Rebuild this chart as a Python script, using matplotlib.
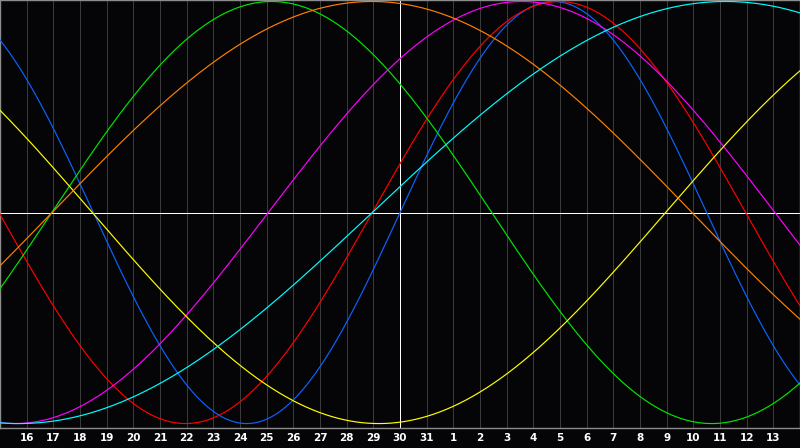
import numpy as np
import matplotlib
matplotlib.use("Agg")
import matplotlib.pyplot as plt

# Day labels along the bottom (gridline k = 1..29)
day_labels = [16, 17, 18, 19, 20, 21, 22, 23, 24, 25, 26, 27, 28, 29, 30, 31,
              1, 2, 3, 4, 5, 6, 7, 8, 9, 10, 11, 12, 13]
n_days = 30          # chart spans 30 days (15th .. 14th)
today_index = 15     # day "30" highlighted

# Biorhythm cycles: period (days) and day index of ascending zero crossing
names = ["physical", "emotional", "intellectual", "intuitive", "aesthetic", "awareness", "spiritual"]
periods = [23, 28, 33, 38, 43, 48, 53]
zero_up = [15.0, 13.96, 1.94, 10.06, 24.96, 1.95, 13.96]
colors = ["#0a64ff", "#ff0000", "#00e600", "#ff00ff", "#ffff00", "#ff8000", "#00ffff"]

fig = plt.figure(figsize=(8, 4.48), dpi=100, facecolor="#050508")
ax = fig.add_axes([0, 20 / 448, 1, 428 / 448])
ax.set_facecolor("#050508")
ax.set_xlim(0, n_days)
ax.set_ylim(-1.021, 1.007)

for k in range(1, n_days):
    ax.axvline(k, color="#3a3a3a", lw=0.72, antialiased=False, zorder=1)

t = np.linspace(0, n_days, 1601)
for p, z, c in zip(periods, zero_up, colors):
    ax.plot(t, np.sin(2 * np.pi * (t - z) / p), color=c, lw=0.85, zorder=3)

ax.axhline(0, color="white", lw=0.72, antialiased=False, zorder=2)
ax.axvline(today_index, color="white", lw=0.72, antialiased=False, zorder=2)

ax.set_xticks([])
ax.set_yticks([])
for s in ax.spines.values():
    s.set_color("#8c8c8c")
    s.set_linewidth(1.0)

for k, d in enumerate(day_labels, start=1):
    fig.text(k / n_days, 10 / 448, str(d), color="white", fontsize=7.5,
             fontweight="bold", ha="center", va="center", family="DejaVu Sans")

fig.savefig("out.png", dpi=100, facecolor=fig.get_facecolor())
